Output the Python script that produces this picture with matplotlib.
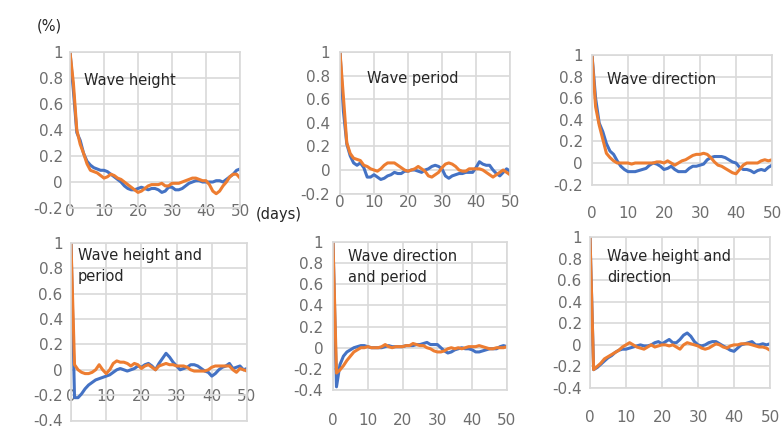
import matplotlib
matplotlib.use('Agg')
import matplotlib.pyplot as plt

# lag in days
lags = list(range(51))

# Wave height
h_blue = [1.0, 0.70, 0.38, 0.32, 0.22, 0.16, 0.13, 0.11, 0.10, 0.09, 0.09, 0.08, 0.06, 0.04, 0.02, 0.0,
          -0.03, -0.05, -0.06, -0.06, -0.05, -0.04, -0.05, -0.06, -0.05, -0.05, -0.06, -0.08, -0.07, -0.04,
          -0.04, -0.06, -0.06, -0.05, -0.03, -0.01, 0.0, 0.01, 0.01, 0.0, 0.0, 0.0, 0.0, 0.01, 0.01, 0.0,
          0.02, 0.04, 0.06, 0.09, 0.10]
h_orange = [1.0, 0.76, 0.40, 0.29, 0.22, 0.14, 0.09, 0.08, 0.07, 0.05, 0.03, 0.04, 0.06, 0.05, 0.03, 0.02,
            0.0, -0.02, -0.04, -0.06, -0.08, -0.07, -0.05, -0.03, -0.02, -0.02, -0.02, -0.01, -0.03, -0.03,
            -0.01, -0.01, -0.01, 0.0, 0.01, 0.02, 0.03, 0.03, 0.02, 0.01, 0.01, -0.02, -0.07, -0.09, -0.07,
            -0.03, 0.0, 0.04, 0.06, 0.06, 0.03]

# Wave period
p_blue = [1.0, 0.50, 0.22, 0.12, 0.06, 0.04, 0.06, 0.02, -0.06, -0.06, -0.04, -0.06, -0.08, -0.07, -0.05,
          -0.04, -0.02, -0.03, -0.03, -0.01, -0.01, 0.0, 0.0, -0.01, -0.02, 0.0, 0.01, 0.03, 0.04, 0.03,
          0.01, -0.05, -0.07, -0.05, -0.04, -0.03, -0.03, -0.02, -0.02, -0.02, 0.02, 0.07, 0.05, 0.04, 0.04,
          0.0, -0.03, -0.05, -0.02, 0.01, -0.01]
p_orange = [1.0, 0.62, 0.23, 0.14, 0.10, 0.09, 0.08, 0.04, 0.03, 0.01, 0.0, -0.01, 0.01, 0.04, 0.06, 0.06,
            0.06, 0.04, 0.02, 0.0, -0.01, 0.0, 0.01, 0.03, 0.01, -0.01, -0.05, -0.06, -0.04, -0.02, 0.02,
            0.05, 0.06, 0.05, 0.03, 0.0, -0.01, -0.01, 0.01, 0.01, 0.01, 0.01, 0.0, -0.02, -0.04, -0.06,
            -0.04, -0.02, 0.0, -0.02, -0.04]

# Wave direction
d_blue = [1.0, 0.60, 0.37, 0.29, 0.18, 0.11, 0.08, 0.02, -0.03, -0.06, -0.08, -0.08, -0.08, -0.07, -0.06,
          -0.05, -0.02, 0.0, -0.01, -0.03, -0.06, -0.05, -0.03, -0.06, -0.08, -0.08, -0.08, -0.05, -0.03,
          -0.03, -0.02, -0.01, 0.03, 0.05, 0.06, 0.06, 0.06, 0.05, 0.03, 0.01, 0.0, -0.04, -0.06, -0.06,
          -0.07, -0.09, -0.07, -0.06, -0.07, -0.04, -0.02]
d_orange = [1.0, 0.52, 0.35, 0.22, 0.09, 0.05, 0.02, 0.0, 0.0, 0.0, 0.0, -0.01, 0.0, 0.0, 0.0, 0.0, 0.0,
            0.0, 0.01, 0.01, 0.0, 0.02, 0.0, -0.02, 0.0, 0.02, 0.03, 0.05, 0.07, 0.08, 0.08, 0.09, 0.08,
            0.05, 0.01, -0.02, -0.03, -0.05, -0.07, -0.09, -0.10, -0.06, -0.02, 0.0, 0.0, 0.0, 0.0, 0.02,
            0.03, 0.02, 0.03]

# Wave height and period
hp_blue = [1.0, -0.22, -0.22, -0.19, -0.15, -0.12, -0.10, -0.08, -0.07, -0.06, -0.05, -0.04, -0.02, 0.0,
           0.01, 0.0, -0.01, 0.0, 0.01, 0.03, 0.02, 0.04, 0.05, 0.03, 0.0, 0.05, 0.09, 0.13, 0.10, 0.06,
           0.03, 0.0, 0.01, 0.02, 0.04, 0.04, 0.03, 0.01, -0.01, -0.02, -0.05, -0.03, 0.0, 0.02, 0.03,
           0.05, 0.01, 0.02, 0.03, 0.0, 0.01]
hp_orange = [1.0, 0.04, 0.0, -0.02, -0.03, -0.03, -0.02, 0.0, 0.04, 0.0, -0.03, 0.0, 0.05, 0.07, 0.06,
             0.06, 0.05, 0.03, 0.05, 0.04, 0.01, 0.03, 0.04, 0.02, 0.0, 0.03, 0.04, 0.05, 0.04, 0.04, 0.03,
             0.03, 0.03, 0.02, 0.0, -0.01, -0.01, -0.01, -0.01, 0.0, 0.02, 0.03, 0.03, 0.03, 0.03, 0.03,
             0.0, -0.02, 0.01, 0.0, -0.01]

# Wave direction and period
dp_blue = [1.0, -0.37, -0.16, -0.08, -0.04, -0.02, 0.0, 0.01, 0.02, 0.02, 0.01, 0.0, 0.0, 0.0, 0.0, 0.01,
           0.02, 0.01, 0.01, 0.01, 0.01, 0.02, 0.02, 0.02, 0.03, 0.03, 0.04, 0.05, 0.03, 0.03, 0.03, 0.0,
           -0.03, -0.05, -0.04, -0.02, -0.01, 0.0, -0.01, -0.01, -0.02, -0.04, -0.04, -0.03, -0.02, -0.01,
           -0.01, -0.01, 0.01, 0.02, 0.01]
dp_orange = [1.0, -0.24, -0.21, -0.17, -0.12, -0.08, -0.04, -0.02, 0.0, 0.0, 0.01, 0.0, 0.0, 0.0, 0.01,
             0.03, 0.01, 0.0, 0.01, 0.01, 0.01, 0.02, 0.02, 0.04, 0.03, 0.02, 0.02, 0.0, -0.01, -0.03,
             -0.04, -0.04, -0.03, -0.01, 0.0, -0.01, 0.0, -0.01, 0.0, 0.01, 0.01, 0.01, 0.02, 0.01, 0.0,
             -0.01, -0.01, 0.0, 0.0, 0.0, 0.01]

# Wave height and direction
hd_blue = [1.0, -0.23, -0.21, -0.18, -0.15, -0.12, -0.10, -0.07, -0.05, -0.04, -0.04, -0.03, -0.02, -0.01,
           0.0, -0.01, -0.01, 0.0, 0.02, 0.03, 0.01, 0.03, 0.05, 0.02, 0.02, 0.05, 0.09, 0.11, 0.08, 0.03,
           0.0, -0.01, 0.0, 0.02, 0.03, 0.03, 0.01, -0.01, -0.03, -0.05, -0.06, -0.03, 0.0, 0.01, 0.02,
           0.03, 0.0, 0.0, 0.01, 0.0, 0.01]
hd_orange = [1.0, -0.23, -0.20, -0.17, -0.13, -0.11, -0.09, -0.07, -0.05, -0.02, 0.0, 0.02, 0.0, -0.02,
             -0.03, -0.04, -0.02, 0.0, -0.02, -0.01, 0.0, 0.0, -0.01, 0.0, -0.02, -0.04, 0.0, 0.02, 0.01,
             0.0, -0.01, -0.03, -0.04, -0.03, -0.01, 0.01, 0.0, -0.02, -0.03, -0.01, 0.0, 0.0, 0.01, 0.01,
             0.01, 0.0, -0.01, -0.02, -0.02, -0.03, -0.05]

titles = ['Wave height', 'Wave period', 'Wave direction',
          'Wave height and\nperiod', 'Wave direction\nand period', 'Wave height and\ndirection']
blues = [h_blue, p_blue, d_blue, hp_blue, dp_blue, hd_blue]
oranges = [h_orange, p_orange, d_orange, hp_orange, dp_orange, hd_orange]
ybottoms = [-0.2, -0.2, -0.2, -0.4, -0.4, -0.4]

W, H = 782, 428
# plot areas in pixels: left, right, top (y=1), bottom (y=ymin)
boxes = [(70, 240, 52, 208), (340, 510, 52, 193.6), (592, 772, 55, 184.6),
         (71, 247, 243, 420.5), (333, 507, 242, 390), (590, 770, 237, 388)]
xpads = [-3, 1, 15.5, -23, 16.5, 16]
ypads = [5, 7, 6.5, 6, 7, 6]
text_pos = [(84, 80), (367, 79), (607, 79), (78, 266), (348, 267), (607, 267)]

BLUE = '#4472C4'
ORANGE = '#ED7D31'
GRID = '#d9d9d9'
TICK = '#6e6e6e'

fig = plt.figure(figsize=(W / 100, H / 100), dpi=100)

for i in range(6):
    l, r, t, b = boxes[i]
    ax = fig.add_axes([l / W, 1 - b / H, (r - l) / W, (b - t) / H])
    ax.plot(lags, blues[i], color=BLUE, lw=2.2, solid_joinstyle='round')
    ax.plot(lags, oranges[i], color=ORANGE, lw=2.2, solid_joinstyle='round')
    ax.set_xlim(0, 50)
    ax.set_ylim(ybottoms[i], 1)
    ax.set_xticks(range(0, 51, 10))
    yt = [round(ybottoms[i] + 0.2 * k, 1) for k in range(int(round((1 - ybottoms[i]) / 0.2)) + 1)]
    ax.set_yticks(yt)
    ax.set_yticklabels(['0' if v == 0 else ('1' if v == 1 else f'{v:g}') for v in yt])
    ax.grid(True, color=GRID, lw=1.2)
    ax.set_axisbelow(True)
    for s in ax.spines.values():
        s.set_color(GRID)
        s.set_linewidth(1.2)
    ax.tick_params(axis='x', length=0, pad=xpads[i], labelsize=11, labelcolor=TICK)
    ax.tick_params(axis='y', length=0, pad=ypads[i], labelsize=11, labelcolor=TICK)
    tx, ty = text_pos[i]
    fig.text(tx / W, 1 - ty / H, titles[i], ha='left', va='center', fontsize=10.5,
             color='#262626', linespacing=1.45)

fig.text(49 / W, 1 - 26 / H, '(%)', ha='center', va='center', fontsize=10.5, color='#262626')
fig.text(279 / W, 1 - 214 / H, '(days)', ha='center', va='center', fontsize=10.5, color='#262626')

fig.savefig('out.png', dpi=100)
